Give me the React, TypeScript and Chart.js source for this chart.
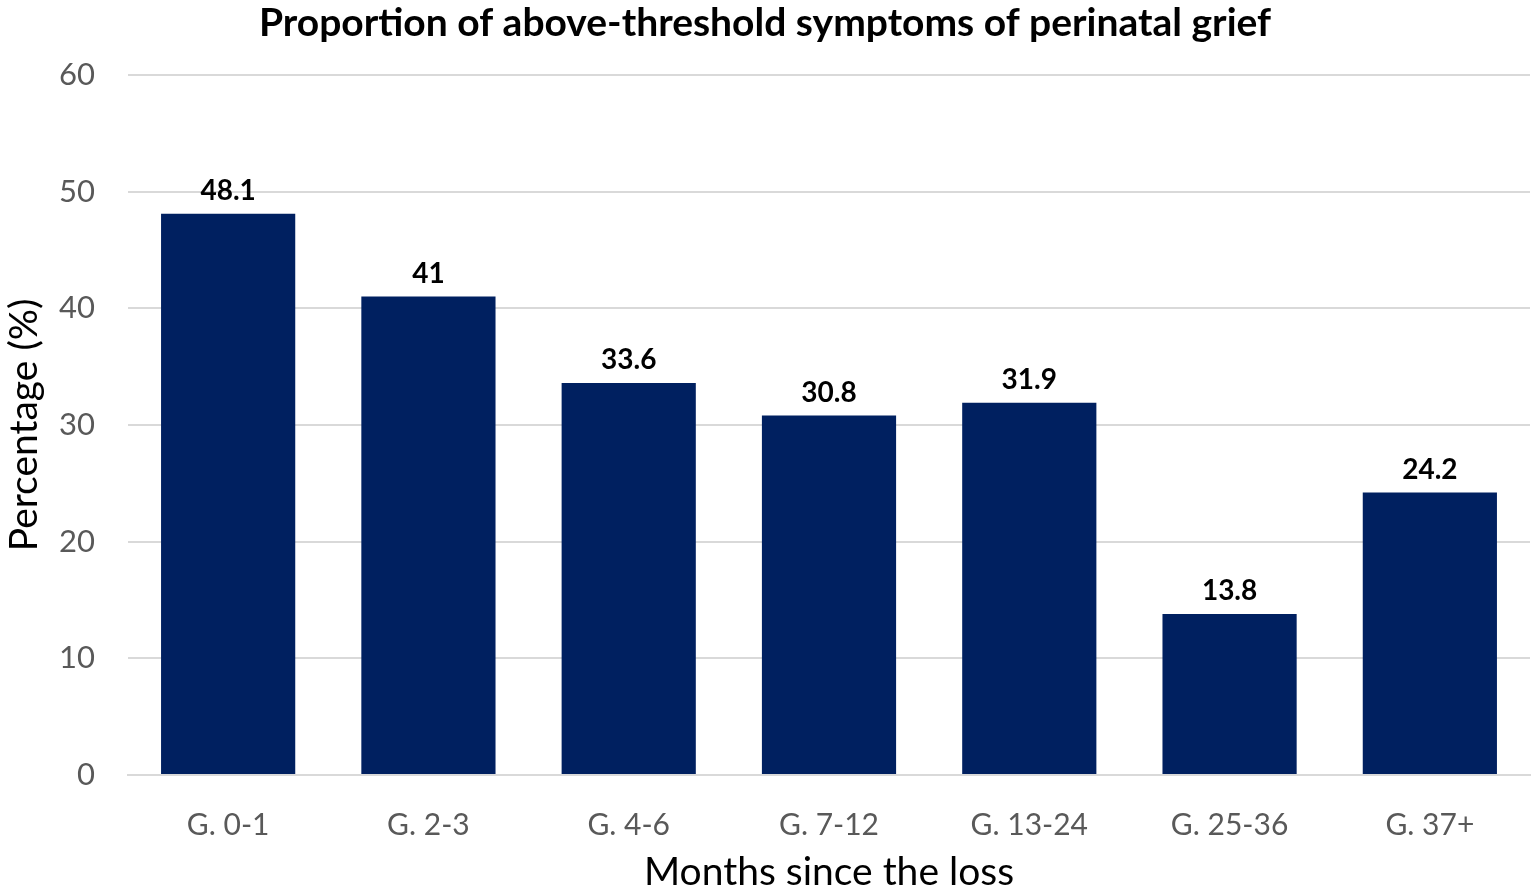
import { useEffect, useRef } from "react"
import { Chart, registerables } from "chart.js"

Chart.register(...registerables)

const categories = ["G. 0-1", "G. 2-3", "G. 4-6", "G. 7-12", "G. 13-24", "G. 25-36", "G. 37+"]
const percentages = [48.1, 41, 33.6, 30.8, 31.9, 13.8, 24.2]

const FONT = "Lato, 'Open Sans', sans-serif"

// draws the value above each bar
const barLabels = {
  id: "barLabels",
  afterDatasetsDraw(chart: Chart) {
    const ctx = chart.ctx
    const meta = chart.getDatasetMeta(0)
    ctx.save()
    ctx.font = `bold 28px ${FONT}`
    ctx.fillStyle = "#000000"
    ctx.textAlign = "center"
    ctx.textBaseline = "alphabetic"
    meta.data.forEach((bar, i) => {
      ctx.fillText(String(percentages[i]), bar.x, bar.y - 14)
    })
    ctx.restore()
  },
}

export default function App() {
  const chartRef = useRef<HTMLCanvasElement>(null)
  const chartInstance = useRef<Chart | null>(null)

  useEffect(() => {
    if (!chartRef.current) return

    if (chartInstance.current) {
      chartInstance.current.destroy()
    }

    const ctx = chartRef.current.getContext("2d")
    if (!ctx) return

    chartInstance.current = new Chart(ctx, {
      type: "bar",
      data: {
        labels: categories,
        datasets: [
          {
            label: "Percentage",
            data: percentages,
            backgroundColor: "#002060",
            categoryPercentage: 0.67,
            barPercentage: 1,
          },
        ],
      },
      plugins: [barLabels],
      options: {
        responsive: true,
        maintainAspectRatio: false,
        animation: false,
        layout: {
          padding: { left: 0, right: 5, top: 0, bottom: 0 },
        },
        plugins: {
          legend: {
            display: false,
          },
          tooltip: {
            enabled: false,
          },
          title: {
            display: true,
            text: "Proportion of above-threshold symptoms of perinatal grief",
            color: "#000000",
            font: { family: FONT, size: 39, weight: "bold" },
            padding: { top: 0, bottom: 28 },
          },
        },
        scales: {
          x: {
            grid: {
              display: false,
            },
            border: { color: "#d9d9d9", width: 2 },
            ticks: {
              color: "#595959",
              font: { family: FONT, size: 30 },
              padding: 24,
            },
            title: {
              display: true,
              text: "Months since the loss",
              color: "#000000",
              font: { family: FONT, size: 39 },
              padding: { top: 10, bottom: -4 },
            },
            afterFit: (scale: any) => {
              scale.height = 117
            },
          },
          y: {
            min: 0,
            max: 60,
            ticks: {
              stepSize: 10,
              color: "#595959",
              font: { family: FONT, size: 31 },
              padding: 33,
            },
            grid: {
              color: "#d9d9d9",
              lineWidth: 2,
              drawTicks: false,
            },
            border: { display: false },
            title: {
              display: true,
              text: "Percentage (%)",
              color: "#000000",
              font: { family: FONT, size: 39 },
              padding: { top: 1, bottom: 0 },
            },
            afterFit: (scale: any) => {
              scale.width = 128
            },
          },
        },
      },
    })

    return () => {
      if (chartInstance.current) {
        chartInstance.current.destroy()
      }
    }
  }, [])

  return (
    <div style={{ position: "absolute", left: 0, top: 0, width: 1535, height: 892, background: "#ffffff" }}>
      <canvas ref={chartRef} />
    </div>
  )
}
